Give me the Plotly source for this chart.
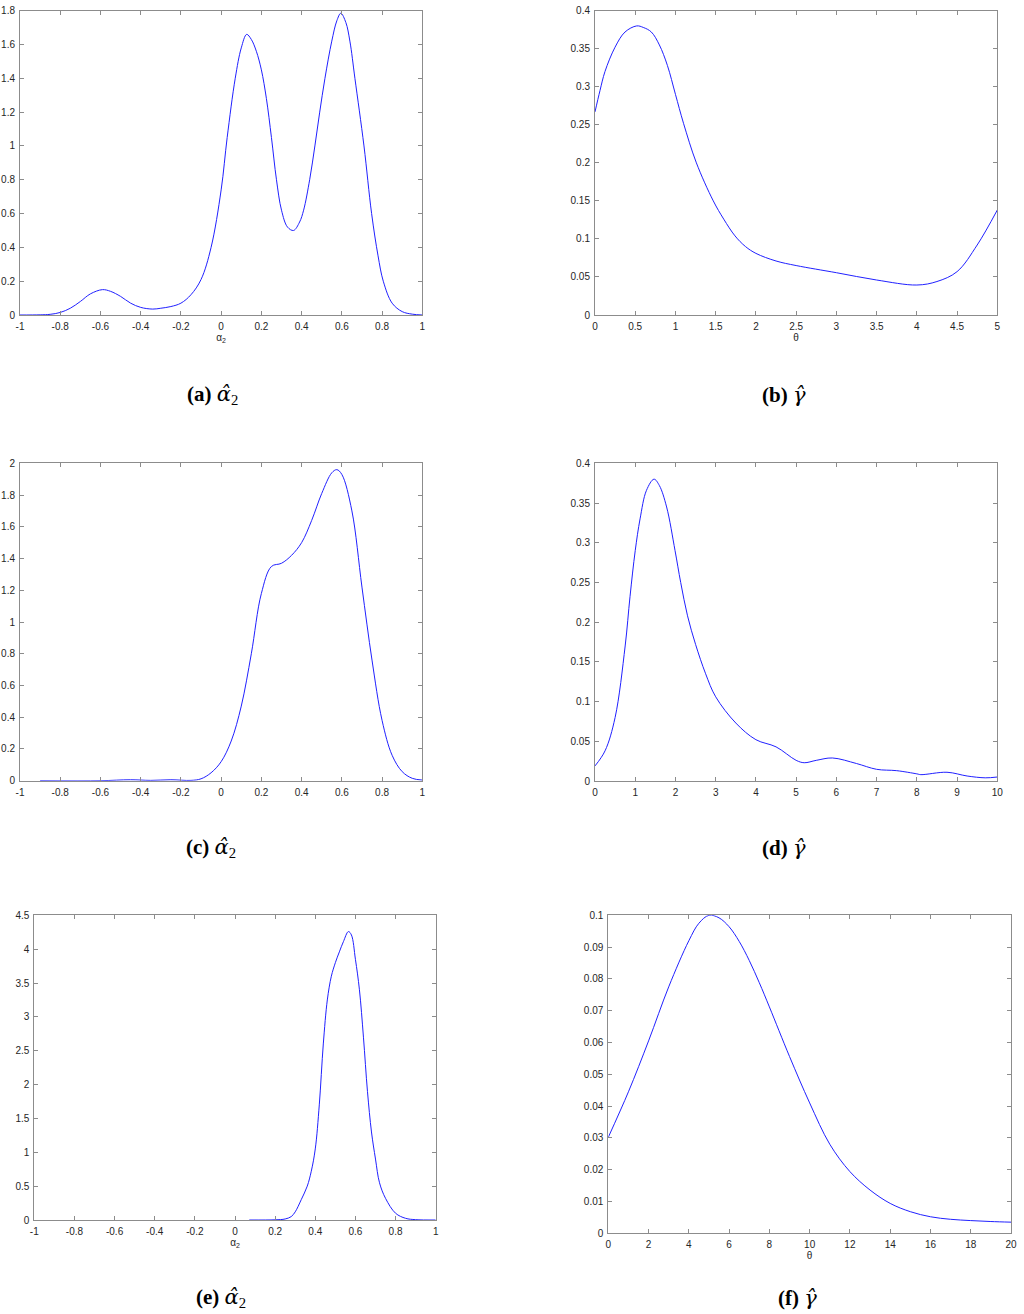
import plotly.graph_objects as go

# ---------------- data ----------------
a_x = [-1, -0.9, -0.85, -0.8, -0.75, -0.7, -0.65, -0.59, -0.55, -0.5, -0.45, -0.4, -0.34, -0.3, -0.25,
       -0.2, -0.15, -0.1, -0.05, 0, 0.03, 0.07, 0.1, 0.127, 0.15, 0.175, 0.2, 0.225, 0.25, 0.275, 0.3,
       0.33, 0.36, 0.39, 0.41, 0.44, 0.466, 0.49, 0.516, 0.55, 0.575, 0.595, 0.62, 0.64, 0.665, 0.71,
       0.748, 0.78, 0.806, 0.85, 0.9, 0.95, 1]
a_y = [0, 0.001, 0.004, 0.015, 0.04, 0.08, 0.125, 0.15, 0.14, 0.11, 0.07, 0.045, 0.035, 0.04, 0.05,
       0.07, 0.12, 0.21, 0.4, 0.74, 1.05, 1.4, 1.58, 1.66, 1.63, 1.56, 1.45, 1.28, 1.05, 0.8, 0.62,
       0.52, 0.5, 0.55, 0.62, 0.8, 1.0, 1.2, 1.4, 1.62, 1.74, 1.785, 1.73, 1.62, 1.4, 1.0, 0.6, 0.35,
       0.2, 0.07, 0.02, 0.005, 0]

b_x = [0, 0.062, 0.124, 0.249, 0.373, 0.518, 0.6, 0.7, 0.8, 0.9, 1.0, 1.1, 1.26, 1.47, 1.6, 1.74,
       1.87, 2, 2.25, 2.5, 3, 3.5, 4, 4.25, 4.5, 4.75, 5]
b_y = [0.267, 0.295, 0.32, 0.352, 0.372, 0.38, 0.378, 0.372, 0.355, 0.328, 0.29, 0.252, 0.2, 0.15,
       0.126, 0.104, 0.09, 0.081, 0.071, 0.065, 0.0556, 0.046, 0.0394, 0.044, 0.057, 0.092, 0.138]

c_x = [-0.9, -0.6, -0.45, -0.35, -0.25, -0.15, -0.1, -0.05, 0, 0.05, 0.1, 0.15, 0.2, 0.25, 0.3, 0.35,
       0.4, 0.45, 0.5, 0.55, 0.575, 0.6, 0.65, 0.7, 0.75, 0.8, 0.85, 0.9, 0.95, 1]
c_y = [0, 0.0, 0.006, 0.002, 0.006, 0.002, 0.012, 0.05, 0.12, 0.25, 0.47, 0.8, 1.18, 1.35, 1.37, 1.42,
       1.5, 1.64, 1.81, 1.94, 1.96, 1.93, 1.7, 1.22, 0.76, 0.38, 0.16, 0.057, 0.015, 0.004]

d_x = [0, 0.25, 0.5, 0.75, 0.87, 1.0, 1.12, 1.28, 1.467, 1.6, 1.78, 1.99, 2.13, 2.3, 2.5, 2.75, 3,
       3.5, 4, 4.5, 5, 5.2, 5.5, 5.9, 6.5, 7, 7.5, 8, 8.1, 8.75, 9.25, 9.7, 10]
d_y = [0.019, 0.038, 0.08, 0.17, 0.232, 0.29, 0.33, 0.366, 0.38, 0.372, 0.345, 0.29, 0.25, 0.208,
       0.172, 0.135, 0.106, 0.073, 0.052, 0.043, 0.026, 0.023, 0.026, 0.029, 0.022, 0.0147, 0.013,
       0.009, 0.008, 0.011, 0.0063, 0.004, 0.005]

e_x = [0.071, 0.2, 0.25, 0.28, 0.3, 0.33, 0.36, 0.38, 0.4, 0.42, 0.44, 0.46, 0.48, 0.5, 0.52, 0.54,
       0.565, 0.58, 0.6, 0.62, 0.64, 0.66, 0.68, 0.7, 0.72, 0.75, 0.8, 0.85, 0.9, 1]
e_y = [0, 0.003, 0.015, 0.05, 0.12, 0.3, 0.5, 0.72, 1.05, 1.7, 2.6, 3.25, 3.6, 3.8, 3.96, 4.11,
       4.26, 4.21, 3.85, 3.4, 2.7, 1.9, 1.3, 0.9, 0.55, 0.32, 0.1, 0.025, 0.005, 0]

f_x = [0, 1, 2, 3, 4, 4.5, 5, 5.5, 6, 6.5, 7, 7.5, 8, 9, 10, 11, 12, 13, 14, 15, 16, 17, 18, 19, 20]
f_y = [0.0302, 0.0445, 0.0605, 0.0775, 0.092, 0.0975, 0.1, 0.0992, 0.0964, 0.0918, 0.0858, 0.0788,
       0.0712, 0.0556, 0.041, 0.028, 0.0194, 0.0136, 0.0094, 0.0068, 0.0052, 0.0044, 0.004, 0.0037,
       0.0035]

alpha_xticks = [-1, -0.8, -0.6, -0.4, -0.2, 0, 0.2, 0.4, 0.6, 0.8, 1]
alpha_xtext = ["-1", "-0.8", "-0.6", "-0.4", "-0.2", "0", "0.2", "0.4", "0.6", "0.8", "1"]

a_yticks = [0, 0.2, 0.4, 0.6, 0.8, 1, 1.2, 1.4, 1.6, 1.8]
a_ytext = ["0", "0.2", "0.4", "0.6", "0.8", "1", "1.2", "1.4", "1.6", "1.8"]
b_xticks = [0, 0.5, 1, 1.5, 2, 2.5, 3, 3.5, 4, 4.5, 5]
b_xtext = ["0", "0.5", "1", "1.5", "2", "2.5", "3", "3.5", "4", "4.5", "5"]
gam_yticks = [0, 0.05, 0.1, 0.15, 0.2, 0.25, 0.3, 0.35, 0.4]
gam_ytext = ["0", "0.05", "0.1", "0.15", "0.2", "0.25", "0.3", "0.35", "0.4"]
c_yticks = [0, 0.2, 0.4, 0.6, 0.8, 1, 1.2, 1.4, 1.6, 1.8, 2]
c_ytext = ["0", "0.2", "0.4", "0.6", "0.8", "1", "1.2", "1.4", "1.6", "1.8", "2"]
d_xticks = [0, 1, 2, 3, 4, 5, 6, 7, 8, 9, 10]
d_xtext = ["0", "1", "2", "3", "4", "5", "6", "7", "8", "9", "10"]
e_yticks = [0, 0.5, 1, 1.5, 2, 2.5, 3, 3.5, 4, 4.5]
e_ytext = ["0", "0.5", "1", "1.5", "2", "2.5", "3", "3.5", "4", "4.5"]
f_xticks = [0, 2, 4, 6, 8, 10, 12, 14, 16, 18, 20]
f_xtext = ["0", "2", "4", "6", "8", "10", "12", "14", "16", "18", "20"]
f_yticks = [0, 0.01, 0.02, 0.03, 0.04, 0.05, 0.06, 0.07, 0.08, 0.09, 0.1]
f_ytext = ["0", "0.01", "0.02", "0.03", "0.04", "0.05", "0.06", "0.07", "0.08", "0.09", "0.1"]

GREEK = '<span style="font-family:DejaVu Serif">{}</span>'
captions = ["<b>(a)</b> <i>" + GREEK.format("α̂") + "</i><sub>2</sub>",
            "<b>(b)</b> <i>" + GREEK.format("γ̂") + "</i>",
            "<b>(c)</b> <i>" + GREEK.format("α̂") + "</i><sub>2</sub>",
            "<b>(d)</b> <i>" + GREEK.format("γ̂") + "</i>",
            "<b>(e)</b> <i>" + GREEK.format("α̂") + "</i><sub>2</sub>",
            "<b>(f)</b> <i>" + GREEK.format("γ̂") + "</i>"]

# ---------------- layout helpers ----------------
W, H = 1024, 1314


def px_x(p):
    return p / W


def px_y(p):
    return 1 - p / H


panels = [
    (a_x, a_y, [-1, 1], [0, 1.8], alpha_xticks, alpha_xtext, a_yticks, a_ytext, (20, 422.3), (10.7, 315), "α<sub>2</sub>"),
    (b_x, b_y, [0, 5], [0, 0.4], b_xticks, b_xtext, gam_yticks, gam_ytext, (595, 997.3), (10.7, 315), "θ"),
    (c_x, c_y, [-1, 1], [0, 2], alpha_xticks, alpha_xtext, c_yticks, c_ytext, (20, 422.3), (463.3, 780.7), None),
    (d_x, d_y, [0, 10], [0, 0.4], d_xticks, d_xtext, gam_yticks, gam_ytext, (595, 997.3), (463.3, 781), None),
    (e_x, e_y, [-1, 1], [0, 4.5], alpha_xticks, alpha_xtext, e_yticks, e_ytext, (34.3, 435.7), (915.3, 1220), "α<sub>2</sub>"),
    (f_x, f_y, [0, 20], [0, 0.1], f_xticks, f_xtext, f_yticks, f_ytext, (608.3, 1011), (915.3, 1233.3), "θ"),
]

caption_pos = [(212, 395), (784, 395), (211, 848), (784, 848), (221, 1298), (797, 1298)]

fig = go.Figure()
tickfont = dict(family="Liberation Sans, Arial, sans-serif", size=10, color="#262626")
axis_common = dict(showline=True, linecolor="#8c8c8c", linewidth=1, mirror="ticks", ticks="inside",
                   ticklen=4, tickcolor="#8c8c8c", showgrid=False, zeroline=False, tickfont=tickfont,
                   fixedrange=True, automargin=False, ticklabelstandoff=2)

for i, (xs, ys, xr, yr, xt, xtt, yt, ytt, xpx, ypx, xtitle) in enumerate(panels):
    n = "" if i == 0 else str(i + 1)
    fig.add_trace(go.Scatter(x=xs, y=ys, mode="lines", xaxis="x" + n, yaxis="y" + n,
                             line=dict(color="#2020ff", width=1, shape="spline", smoothing=1.0),
                             showlegend=False, hoverinfo="skip"))
    xa = dict(axis_common, domain=[px_x(xpx[0]), px_x(xpx[1])], range=xr, tickvals=xt, ticktext=xtt,
              anchor="y" + n)
    if xtitle:
        xa["title"] = dict(text=xtitle, font=dict(family="Liberation Sans, Arial, sans-serif", size=10,
                                                   color="#262626"), standoff=2)
    ya = dict(axis_common, domain=[px_y(ypx[1]), px_y(ypx[0])], range=yr, tickvals=yt, ticktext=ytt,
              anchor="x" + n)
    fig.layout["xaxis" + n] = xa
    fig.layout["yaxis" + n] = ya

for (cx, cy), txt in zip(caption_pos, captions):
    fig.add_annotation(x=px_x(cx), y=px_y(cy), xref="paper", yref="paper", text=txt, showarrow=False,
                       xanchor="center", yanchor="middle",
                       font=dict(family="Liberation Serif", size=21, color="black"))

fig.update_layout(template="none", width=W, height=H, margin=dict(l=0, r=0, t=0, b=0),
                  plot_bgcolor="white", paper_bgcolor="white")

fig.write_html("out.html", config={"displayModeBar": False},
               post_script="document.body.style.margin='0px';")
